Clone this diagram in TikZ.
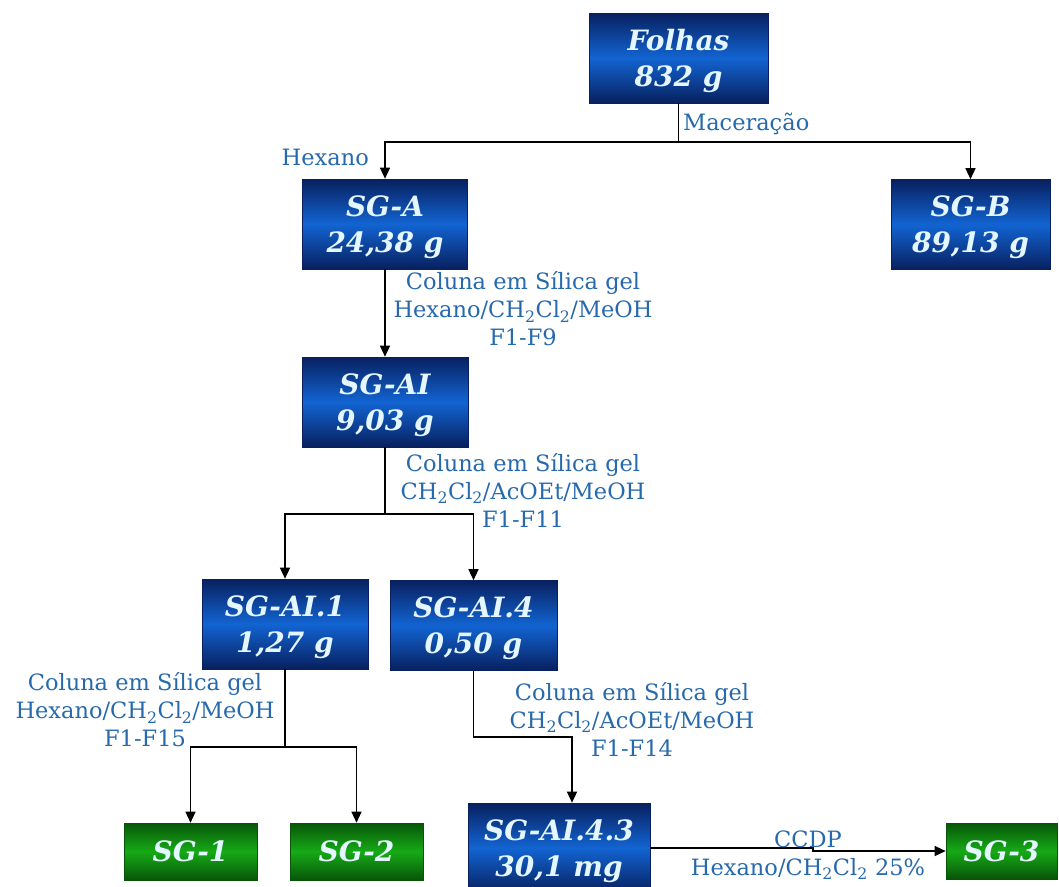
\documentclass[tikz,border=0pt]{standalone}
\usepackage{fontspec}
\setmainfont{DejaVu Serif}
\usetikzlibrary{arrows.meta}
\definecolor{boxblue}{RGB}{18,100,210}
\definecolor{boxnavy}{RGB}{8,32,95}
\definecolor{boxgreen}{RGB}{22,170,22}
\definecolor{boxdkgreen}{RGB}{8,85,8}
\definecolor{labelblue}{RGB}{38,105,172}
\definecolor{boxtext}{RGB}{228,246,255}

\begin{document}
\begin{tikzpicture}[x=1pt, y=-1pt,
    sample/.style={top color=boxnavy, bottom color=boxnavy, middle color=boxblue,
        draw=boxnavy, line width=0.6pt, text=boxtext,
        font=\fontsize{28}{36}\selectfont\bfseries\itshape,
        align=center, inner sep=0pt, text depth=0pt, minimum height=90pt},
    product/.style={sample, top color=boxdkgreen, bottom color=boxdkgreen,
        middle color=boxgreen, draw=boxdkgreen, minimum height=57pt, minimum width=133pt},
    cond/.style={text=labelblue, font=\fontsize{22.5}{28}\selectfont, align=center, inner sep=0pt},
    flow/.style={line width=1.3pt, -{Triangle[length=11pt,width=10pt]}},
    link/.style={line width=1.3pt}]

    % Frame
    \clip (0,0) rectangle (1059,886);

    % Samples
    \node[sample, minimum width=179pt] (folhas) at (678.5,58) {Folhas\\832 g};
    \node[sample, minimum width=165pt] (sga) at (385,224) {SG-A\\24,38 g};
    \node[sample, minimum width=159pt] (sgb) at (970.5,224.5) {SG-B\\89,13 g};
    \node[sample, minimum width=166pt] (sgai) at (385,402) {SG-AI\\9,03 g};
    \node[sample, minimum width=166pt] (sgai1) at (285,624) {SG-AI.1\\1,27 g};
    \node[sample, minimum width=167pt] (sgai4) at (473.5,625.5) {SG-AI.4\\0,50 g};
    \node[sample, minimum width=182pt] (sgai43) at (559,848) {SG-AI.4.3\\30,1 mg};

    % Isolated compounds
    \node[product] (sg1) at (190.5,851.5) {SG-1};
    \node[product] (sg2) at (356.5,851.5) {SG-2};
    \node[product, minimum width=111pt, minimum height=56pt] (sg3) at (1001.5,851) {SG-3};

    % Branch points
    \coordinate (jfol) at (678.5,142);
    \coordinate (jai) at (385,514);
    \coordinate (jai1) at (285,747);
    \coordinate (jai4) at (572,737);
    \coordinate (jccdp) at (813,848);

    % Connectors
    \draw[link] (folhas) -- (jfol);
    \draw[flow] (jfol) -| (sga);
    \draw[flow] (jfol) -| (sgb);
    \draw[flow] (sga) -- (sgai);
    \draw[link] (sgai) -- (jai);
    \draw[flow] (jai) -| (sgai1);
    \draw[flow] (jai) -| (sgai4);
    \draw[link] (sgai1) -- (jai1);
    \draw[flow] (jai1) -| (sg1);
    \draw[flow] (jai1) -| (sg2);
    \draw[flow] (sgai4) |- (jai4) -- (jai4 |- sgai43.north);
    \draw[flow] (sgai43.east |- jccdp) -- (jccdp) |- (sg3);

    % Conditions
    \node[cond, anchor=east] (hexlbl) at (369,157) {Hexano};
    \node[cond, anchor=west] (macer) at (683,124) {Maceração};
    \node[cond] (colA) at (523,309)
        {Coluna em Sílica gel\\Hexano/CH\textsubscript{2}Cl\textsubscript{2}/MeOH\\F1-F9};
    \node[cond] (colAI) at (523,490)
        {Coluna em Sílica gel\\CH\textsubscript{2}Cl\textsubscript{2}/AcOEt/MeOH\\F1-F11};
    \node[cond] (colAIa) at (145,710)
        {Coluna em Sílica gel\\Hexano/CH\textsubscript{2}Cl\textsubscript{2}/MeOH\\F1-F15};
    \node[cond] (colAIb) at (632,719)
        {Coluna em Sílica gel\\CH\textsubscript{2}Cl\textsubscript{2}/AcOEt/MeOH\\F1-F14};
    \node[cond] (ccdp) at (808,855)
        {CCDP\\Hexano/CH\textsubscript{2}Cl\textsubscript{2} 25\%};

\end{tikzpicture}
\end{document}
